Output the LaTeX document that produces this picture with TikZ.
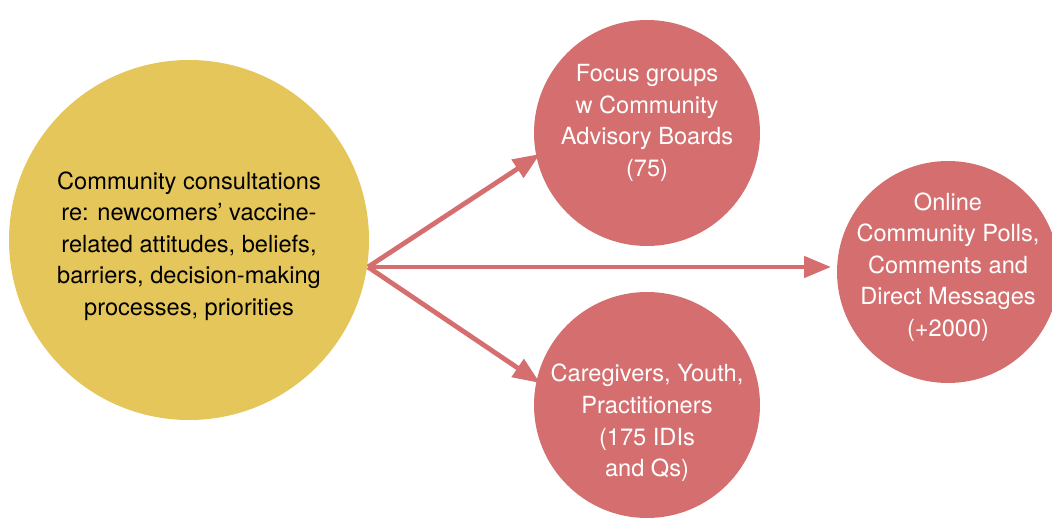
\documentclass[tikz,border=0pt]{standalone}
\usepackage{fontspec}
\setmainfont{TeX Gyre Heros}
\usetikzlibrary{arrows.meta}
\definecolor{ochre}{HTML}{E5C65A}
\definecolor{rose}{HTML}{D56F6F}
\begin{document}
\begin{tikzpicture}[x=1pt,y=-1pt,
  blob/.style={circle,inner sep=0pt,minimum size=#1},
  label/.style={text=#1,align=center,font=\fontsize{23.6}{31.6}\selectfont},
  link/.style={draw=rose,line width=4.8pt,-{Triangle[length=27pt,width=21pt]}}]
\useasboundingbox (0,0) rectangle (1052,518);
% circles
\node[blob=360pt,fill=ochre] (hub) at (189,240) {};
\node[blob=226pt,fill=rose] (focus) at (647,133) {};
\node[blob=226pt,fill=rose] (care) at (647,405) {};
\node[blob=222pt,fill=rose] (online) at (948,272) {};
% texts
\node[label=black] (hubtxt) at (189,246) {Community consultations\\re: newcomers’ vaccine-\\related attitudes, beliefs,\\barriers, decision-making\\processes, priorities};
\node[label=white] (focustxt) at (647,123) {Focus groups\\w Community\\Advisory Boards\\(75)};
\node[label=white] (caretxt) at (647,423) {Caregivers, Youth,\\Practitioners\\(175 IDIs\\and Qs)};
\node[label=white] (onlinetxt) at (948,267) {Online\\Community Polls,\\Comments and\\Direct Messages\\(+2000)};
% connectors
\coordinate (fork) at (368,267);
\coordinate (tipA) at (540,154);
\coordinate (tipB) at (831,267);
\coordinate (tipC) at (540,383);
\draw[link] (fork) -- (tipA);
\draw[link] (fork) -- (tipB);
\draw[link] (fork) -- (tipC);
\end{tikzpicture}
\end{document}
